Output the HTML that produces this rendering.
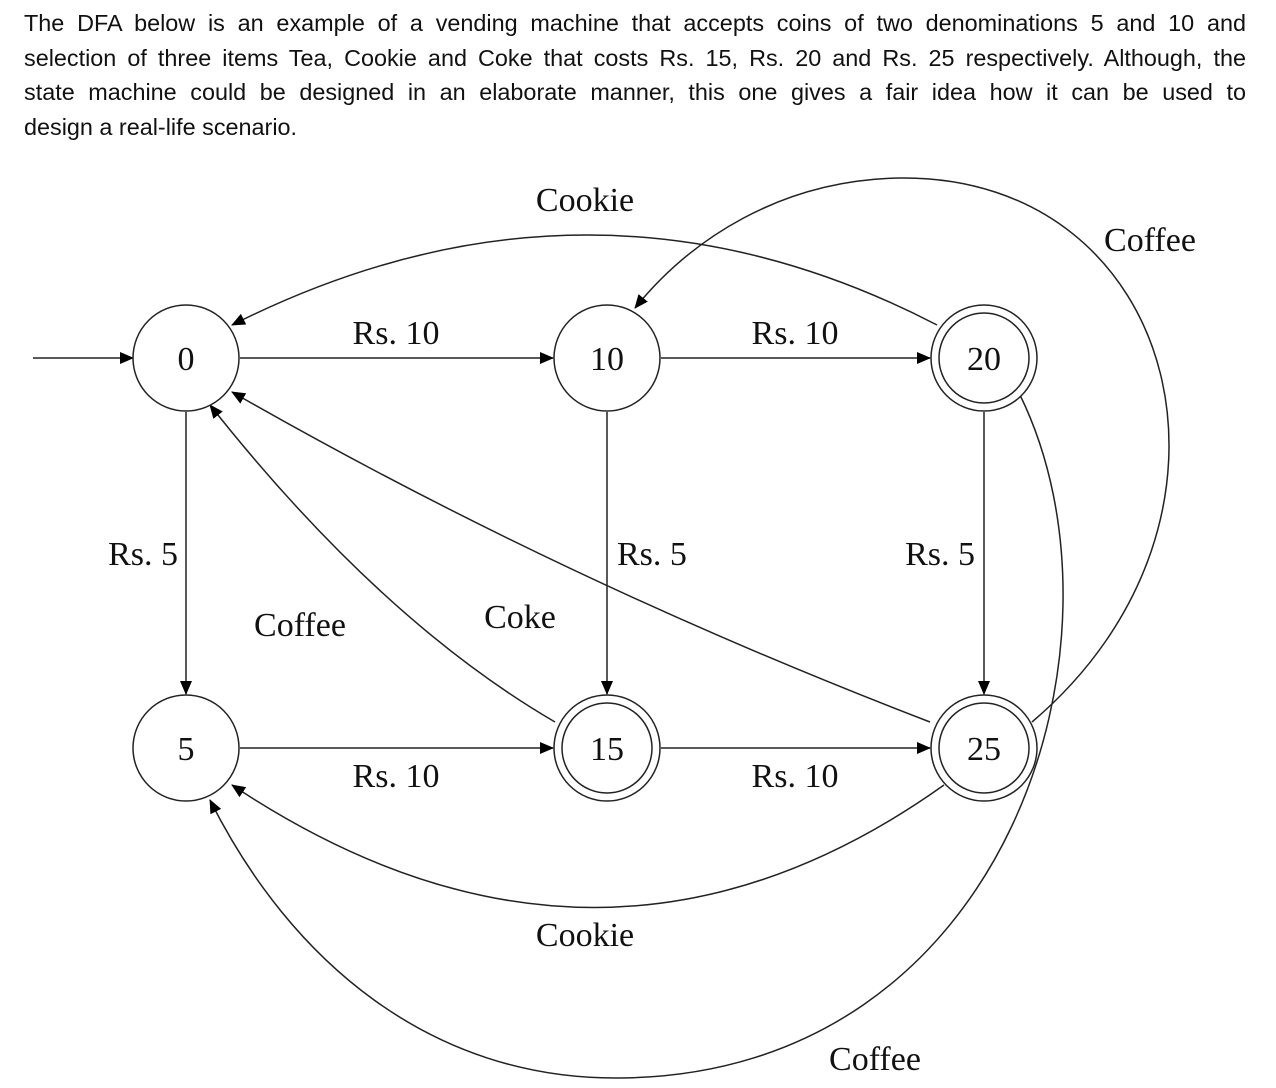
<!DOCTYPE html>
<html><head><meta charset="utf-8"><style>
body{margin:0;width:1276px;height:1088px;background:#fff;overflow:hidden}
#para{position:absolute;left:24px;top:6px;width:1222px;font-family:"Liberation Sans",sans-serif;font-size:23.4px;line-height:34.7px;color:#111}
#para div{text-align:justify;text-align-last:justify;white-space:nowrap}
#para div.last{text-align-last:left}
svg{position:absolute;left:0;top:0}
svg text{font-family:"Liberation Serif",serif;font-size:34px;fill:#111}
</style></head><body>
<div id="para">
<div>The DFA below is an example of a vending machine that accepts coins of two denominations 5 and 10 and</div>
<div>selection of three items Tea, Cookie and Coke that costs Rs. 15, Rs. 20 and Rs. 25 respectively. Although, the</div>
<div>state machine could be designed in an elaborate manner, this one gives a fair idea how it can be used to</div>
<div class="last">design a real-life scenario.</div>
</div>
<svg width="1276" height="1088">
<defs><marker id="a" markerWidth="14" markerHeight="12" refX="13" refY="6" orient="auto" markerUnits="userSpaceOnUse"><path d="M0,0 L14,6 L0,12 Z" fill="#000"/></marker></defs>
<g fill="none" stroke="#222" stroke-width="1.5" marker-end="url(#a)">
<path d="M33,358 L133,358"/>
<path d="M240,358 L553,358"/>
<path d="M661,358 L930,358"/>
<path d="M186,412 L186,694"/>
<path d="M607,412 L607,694"/>
<path d="M984,412 L984,694"/>
<path d="M240,748 L553,748"/>
<path d="M661,748 L930,748"/>
<path d="M937,325 Q590,145 232,325"/>
<path d="M1032,722 C1270,520 1180,175 900,178 C780,180 690,240 635,308"/>
<path d="M555,722 Q380,620 210,405"/>
<path d="M930,722 Q560,580 232,392"/>
<path d="M944,785 Q600,1030 232,785"/>
<path d="M1020,395 C1140,640 1010,1075 620,1078 C430,1080 290,960 210,800"/>
</g>
<g fill="#fff" stroke="#222" stroke-width="1.5">
<circle cx="186" cy="358" r="53"/>
<circle cx="607" cy="358" r="53"/>
<circle cx="984" cy="358" r="53"/>
<circle cx="984" cy="358" r="45"/>
<circle cx="186" cy="748" r="53"/>
<circle cx="607" cy="748" r="53"/>
<circle cx="607" cy="748" r="45"/>
<circle cx="984" cy="748" r="53"/>
<circle cx="984" cy="748" r="45"/>
</g>
<g text-anchor="middle">
<text x="186" y="370">0</text><text x="607" y="370">10</text><text x="984" y="370">20</text>
<text x="186" y="760">5</text><text x="607" y="760">15</text><text x="984" y="760">25</text>
<text x="396" y="344">Rs. 10</text><text x="795" y="344">Rs. 10</text>
<text x="396" y="787">Rs. 10</text><text x="795" y="787">Rs. 10</text>
<text x="585" y="211">Cookie</text><text x="585" y="946">Cookie</text>
<text x="1150" y="251">Coffee</text><text x="300" y="636">Coffee</text>
<text x="875" y="1070">Coffee</text><text x="520" y="628">Coke</text>
</g>
<text x="178" y="565" text-anchor="end">Rs. 5</text>
<text x="617" y="565">Rs. 5</text>
<text x="975" y="565" text-anchor="end">Rs. 5</text>
</svg>
</body></html>
